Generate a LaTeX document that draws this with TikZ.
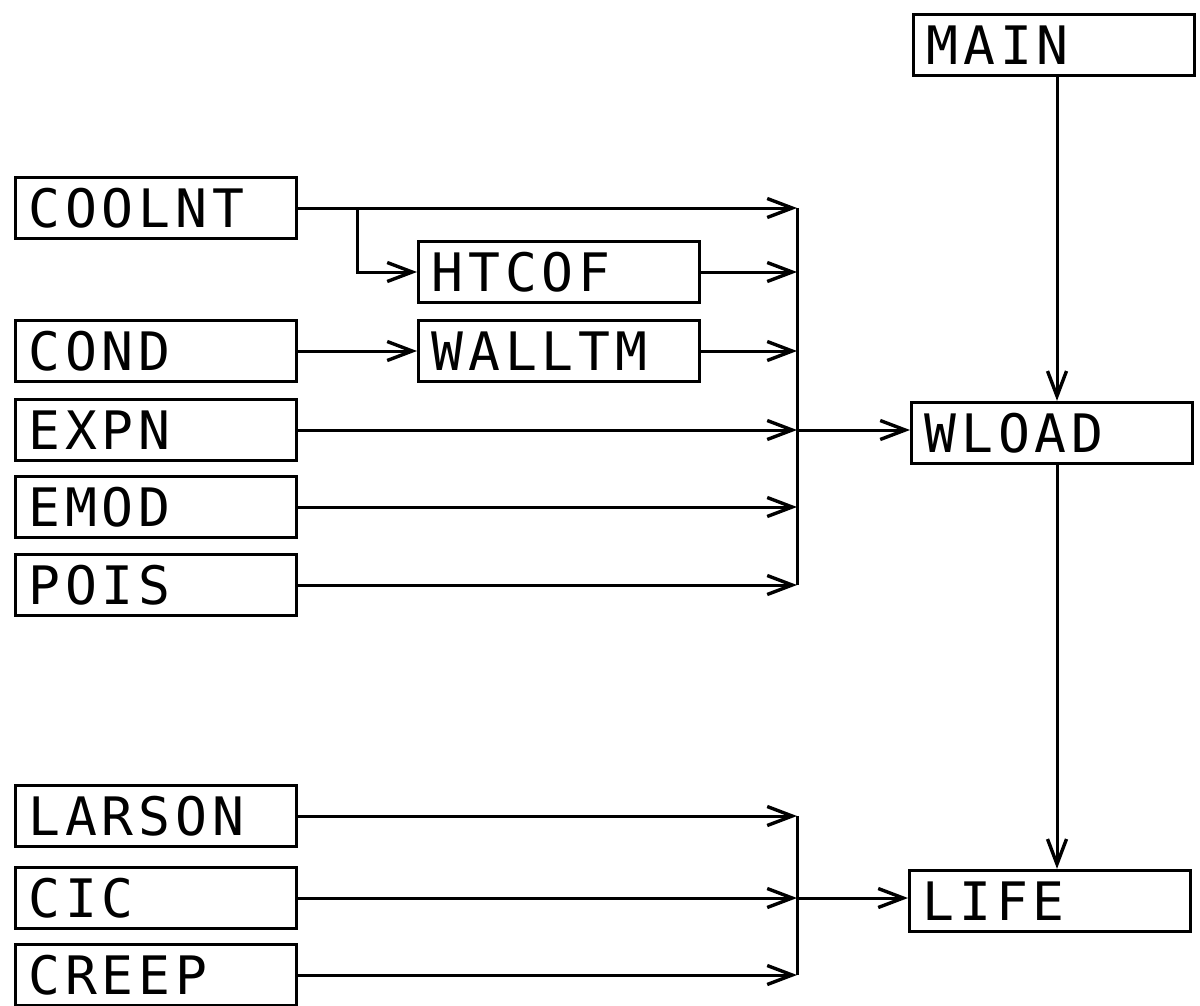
\documentclass[tikz,border=0pt]{standalone}
\usepackage{fontspec}
\newfontfamily\boxfont[LetterSpace=9]{DejaVu Sans Mono}
\usetikzlibrary{arrows.meta}

\begin{document}
\begin{tikzpicture}[x=1pt,y=-1pt,
  blk/.style={draw, line width=3.4pt, anchor=west, minimum height=61pt,
    inner xsep=13pt, inner ysep=0pt, text width=#1, align=left,
    font=\boxfont\fontsize{53}{58}\selectfont},
  blk/.default=255pt,
  wire/.style={line width=3pt},
  arr/.style={wire, -{Straight Barb[length=25pt,width=19pt,line width=3.4pt]}}
]
\useasboundingbox (0,0) rectangle (1200,1005);

% routine boxes
\node[blk] (main)   at (912,45)  {MAIN};
\node[blk] (coolnt) at (14,208)  {COOLNT};
\node[blk] (htcof)  at (417,272) {HTCOF};
\node[blk] (cond)   at (14,351)  {COND};
\node[blk] (walltm) at (417,351) {WALLTM};
\node[blk] (expn)   at (14,430)  {EXPN};
\node[blk] (wload)  at (910,433) {WLOAD};
\node[blk] (emod)   at (14,507)  {EMOD};
\node[blk] (pois)   at (14,585)  {POIS};
\node[blk] (larson) at (14,816)  {LARSON};
\node[blk] (cic)    at (14,898)  {CIC};
\node[blk] (life)   at (908,901) {LIFE};
\node[blk] (creep)  at (14,975)  {CREEP};

% collector bars and junctions
\coordinate (busA) at (797,0);
\coordinate (fork) at (357,0);
\coordinate (vert) at (1057,0);

% inputs to WLOAD
\draw[arr] (coolnt.east) -- (coolnt.east -| busA);
\draw[arr] (coolnt.east -| fork) |- (htcof.west);
\draw[arr] (htcof.east) -- (htcof.east -| busA);
\draw[arr] (cond.east) -- (walltm.west);
\draw[arr] (walltm.east) -- (walltm.east -| busA);
\draw[arr] (expn.east) -- (expn.east -| busA);
\draw[arr] (emod.east) -- (emod.east -| busA);
\draw[arr] (pois.east) -- (pois.east -| busA);
\draw[wire] (coolnt.east -| busA) -- (pois.east -| busA);
\draw[arr] (expn.east -| busA) -- (expn.east -| wload.west);

% inputs to LIFE
\draw[arr] (larson.east) -- (larson.east -| busA);
\draw[arr] (cic.east) -- (cic.east -| busA);
\draw[arr] (creep.east) -- (creep.east -| busA);
\draw[wire] (larson.east -| busA) -- (creep.east -| busA);
\draw[arr] (cic.east -| busA) -- (cic.east -| life.west);

% calling chain
\draw[arr] (main.south -| vert) -- (wload.north -| vert);
\draw[arr] (wload.south -| vert) -- (life.north -| vert);
\end{tikzpicture}
\end{document}
